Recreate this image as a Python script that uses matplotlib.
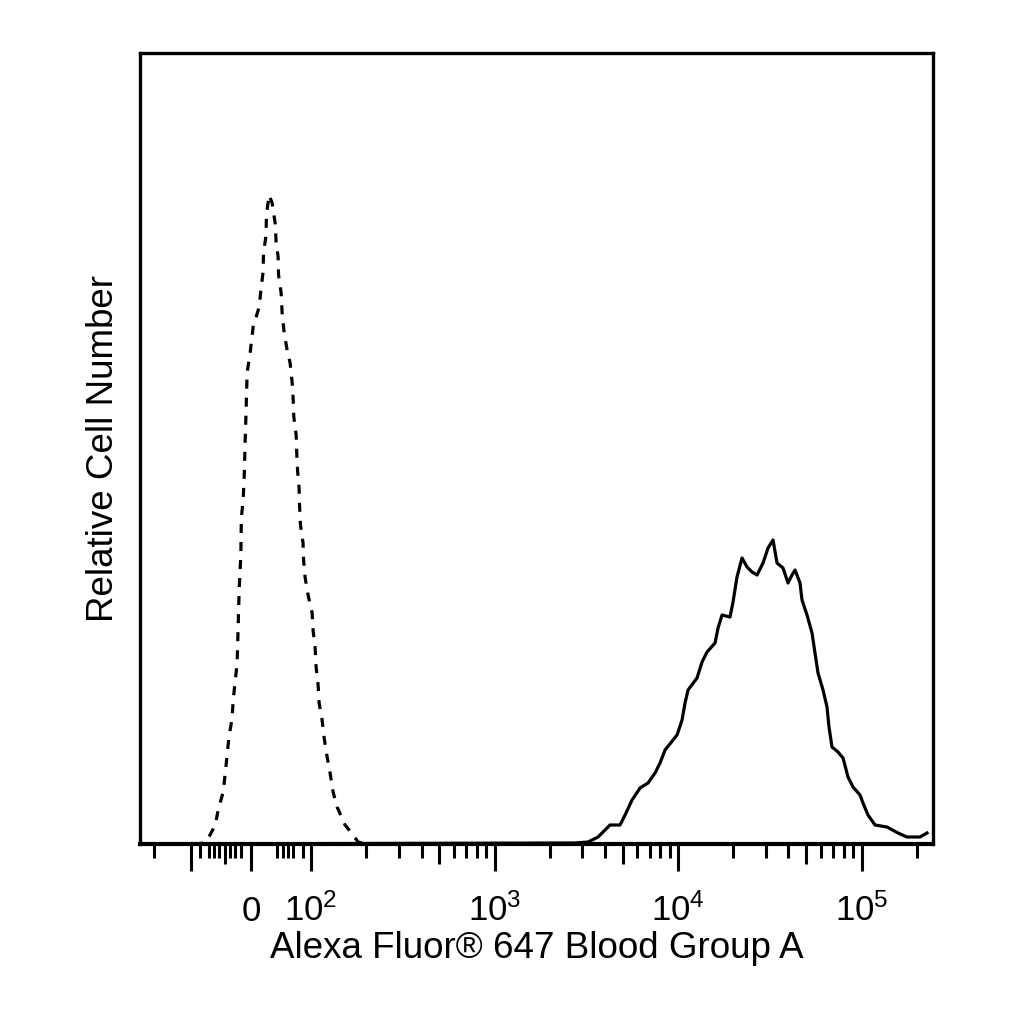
import matplotlib
matplotlib.use('Agg')
import matplotlib.pyplot as plt
from matplotlib.ticker import FixedLocator, FixedFormatter, NullFormatter

# isotype control (dashed) - fluorescence value vs. cell count
control_x = [-190, -90, -84, -78, -68, -62.5, -53, -49, -45.5, -42, -36, -34,
             -26.5, -24.6, -22.7, -19.5, -18.5, -15.2, -13.3, -11.4, -9.5, -7.6,
             -1.9, 3.8, 15.2, 19, 22.7, 23.5, 28.4, 29, 34.1,
             39.8, 45.5, 47.4, 51.2, 52, 56.9, 58.7, 62.5, 68.2, 73.9,
             77.7, 79.6, 80.5, 82.9, 83.5, 84.5, 86, 86.5, 87.5, 90.4,
             91, 92.7, 96.3, 101.3, 102.5, 105.2, 106.5, 109.2, 110.6, 114.8,
             117.8, 122.3, 126.9, 131.8, 138.6, 153.2, 169.4, 180.4, 197, 245000]
control_y = [0, 0, 2, 9, 19, 34, 52, 71, 89, 107, 126, 144,
             181, 217, 254, 289, 326, 344, 364, 401, 434, 471,
             491, 517, 537, 556, 572, 591, 609, 629, 649,
             641, 621, 602, 587, 569, 551, 532, 512, 494, 481,
             462, 446, 427, 409, 391, 372, 356, 339, 319, 301,
             284, 267, 249, 231, 214, 196, 177, 159, 141, 124,
             106, 87, 71, 52, 37, 19, 9, 2, 0, 0]

# stained sample (solid)
stained_x = [-190, 2746, 3233, 3664, 4260, 4828, 5143, 5614, 6208, 6862,
             7494, 7979, 8497, 9877, 10517, 10918, 11337, 12693, 13518, 14389,
             15910, 16523, 17370, 19203, 19937, 20964, 22325, 23771, 25312, 26951,
             29061, 30940, 32946, 34642, 37350, 39762, 41811, 43417, 46219, 47392,
             50468, 53732, 55790, 57933, 61701, 64857, 66505, 69049, 74465, 79316,
             84403, 89914, 98156, 101877, 108471, 118457, 137673, 158115, 176955, 208370,
             227493]
stained_y = [0, 1, 2, 7, 19, 19, 29, 44, 56, 61,
             71, 81, 94, 109, 124, 141, 154, 166, 182, 192,
             201, 216, 229, 227, 242, 267, 286, 277, 272, 269,
             281, 296, 304, 281, 276, 261, 269, 274, 261, 244,
             229, 211, 191, 171, 154, 137, 117, 97, 92, 86,
             67, 57, 49, 41, 29, 19, 17, 11, 7, 7,
             11]

major_ticks = [-100, -50, 0, 100, 500, 1000, 5000, 1e4, 5e4, 1e5]
major_labels = ['', '', '0', r'$\mathregular{10^2}$', '', r'$\mathregular{10^3}$',
                '', r'$\mathregular{10^4}$', '', r'$\mathregular{10^5}$']
medium_ticks = [-50, 500, 5000, 5e4]
minor_ticks = ([-160, -90, -80, -70, -60, -40, -30, -20, 50, 60, 70, 80, 90]
               + [m * 10 ** e for e in (2, 3, 4) for m in (2, 3, 4, 6, 7, 8, 9)]
               + [2e5])

plt.rcParams['font.family'] = ['Liberation Sans', 'DejaVu Sans']
plt.rcParams['mathtext.fontset'] = 'custom'
plt.rcParams['mathtext.rm'] = 'Liberation Sans'
plt.rcParams['mathtext.it'] = 'Liberation Sans:italic'
plt.rcParams['lines.scale_dashes'] = False

fig = plt.figure(figsize=(10.24, 10.24), dpi=100)
ax = fig.add_axes([140 / 1024, 180 / 1024, 793 / 1024, 791 / 1024])

ax.plot(control_x, control_y, color='black', lw=2.3, ls=(0, (6.5, 6.5)), zorder=3)
ax.plot(stained_x, stained_y, color='black', lw=2.3, zorder=3)

# biexponential-like display: linear around zero, log above
ax.set_xscale('symlog', linthresh=80, linscale=0.207)
ax.set_xlim(-190, 245300)
ax.set_ylim(0, 791)

ax.xaxis.set_major_locator(FixedLocator(major_ticks))
ax.xaxis.set_major_formatter(FixedFormatter(major_labels))
ax.xaxis.set_minor_locator(FixedLocator(minor_ticks))
ax.xaxis.set_minor_formatter(NullFormatter())

ax.tick_params(axis='x', which='major', direction='out', length=19.5, width=2.2,
               labelsize=25, pad=36)
ax.tick_params(axis='x', which='minor', direction='out', length=10, width=2.2)
ax.tick_params(axis='y', left=False, labelleft=False)

for tick, loc in zip(ax.xaxis.get_major_ticks(), major_ticks):
    if loc in medium_ticks:
        tick.tick1line.set_markersize(14.4)
for lab in ax.get_xticklabels():
    lab.set_verticalalignment('baseline')

for sp in ax.spines.values():
    sp.set_linewidth(2.4)
ax.spines['bottom'].set_linewidth(3.0)

ax.set_xlabel('Alexa Fluor® 647 Blood Group A', fontsize=26.5, labelpad=2)
ax.set_ylabel('Relative Cell Number', fontsize=26.5, labelpad=14)

fig.savefig('out.png', dpi=100)
